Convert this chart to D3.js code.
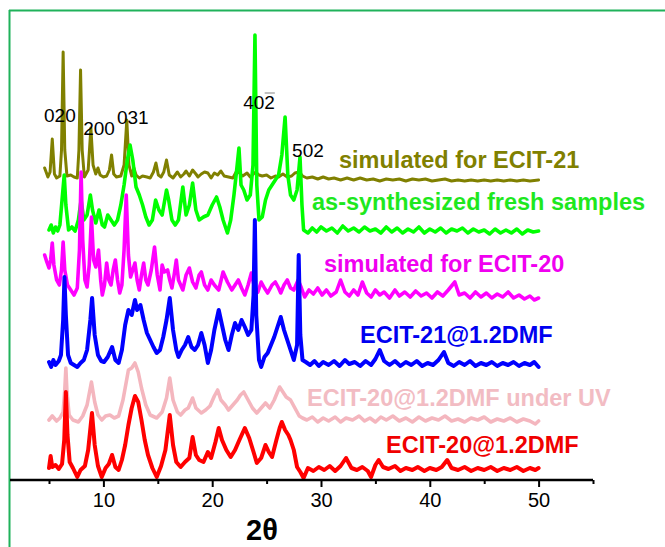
<!DOCTYPE html>
<html>
<head>
<meta charset="utf-8">
<script src="https://cdn.jsdelivr.net/npm/d3@7"></script>
<style>
  html, body { margin: 0; padding: 0; background: #fff; }
  svg { display: block; font-family: "Liberation Sans", Arial, sans-serif; }
</style>
</head>
<body>
<svg id="chart" width="665" height="547"></svg>
<script>
// 2θ ticks along the bottom axis
const majorTicks = [10, 20, 30, 40, 50];
const minorTicks = [5, 15, 25, 35, 45, 55];

// Pattern names, top to bottom
const seriesNames = [
  "simulated for ECIT-21",
  "as-synthesized fresh samples",
  "simulated for ECIT-20",
  "ECIT-21@1.2DMF",
  "ECIT-20@1.2DMF under UV",
  "ECIT-20@1.2DMF"
];

// Vertical stacking offsets (a.u.) for each pattern
const offsets = [290, 235, 170, 105, 50, 0];

// Diffraction patterns: [2θ, intensity (a.u.)]
const simECIT21 = [[4.6,22],[4.9,13],[5.1,18],[5.3,51],[5.5,16],[5.7,12],[6.0,14],[6.15,40],[6.3,138],[6.45,40],[6.65,14],[7.0,15],[7.3,13],[7.6,12],[7.75,40],[7.9,120],[8.05,40],[8.25,13],[8.6,20],[8.85,62],[9.05,25],[9.3,16],[9.5,22],[9.7,15],[10.0,13],[10.3,14],[10.55,20],[10.75,35],[10.95,16],[11.2,13],[11.6,14],[11.9,25],[12.15,70],[12.35,25],[12.6,14],[12.8,22],[13.0,15],[13.3,12],[13.6,14],[14.0,13],[14.3,12],[14.6,18],[14.83,27],[15.05,15],[15.3,13],[15.55,18],[15.8,30],[16.05,15],[16.4,12],[16.8,18],[17.1,13],[17.4,16],[17.6,19],[17.9,14],[18.2,20],[18.5,16],[18.7,13],[19.0,16],[19.3,18],[19.6,17],[19.9,12],[20.2,17],[20.5,15],[20.8,19],[21.1,14],[21.5,13],[21.9,12],[22.3,20],[22.5,17],[22.8,14],[23.2,17],[23.5,13],[23.8,16],[24.0,18],[24.3,15],[24.6,14],[25.0,15],[25.4,12],[25.8,14],[26.1,13],[26.5,16],[26.9,13],[27.3,14],[27.6,17],[28.0,18],[28.3,14],[28.7,12],[29.2,13],[29.7,11],[30.2,13],[30.7,11],[31.2,12],[31.8,10],[32.4,12],[33.0,10],[33.6,12],[34.2,10],[34.8,11],[35.4,9],[36.0,11],[36.6,10],[37.2,11],[37.8,9],[38.4,11],[39.0,10],[39.6,11],[40.2,9],[40.8,10],[41.4,11],[42.0,9],[42.6,10],[43.2,9],[43.8,10],[44.4,9],[45.0,10],[45.6,9],[46.2,10],[46.8,9],[47.4,10],[48.0,9],[48.6,10],[49.2,9],[50.0,10]];

const freshSamples = [[5.0,15],[5.2,20],[5.4,12],[5.6,18],[5.8,14],[6.0,20],[6.2,45],[6.4,70],[6.55,40],[6.8,15],[7.1,18],[7.4,14],[7.7,25],[7.95,45],[8.2,25],[8.5,30],[8.8,50],[9.0,35],[9.3,22],[9.6,35],[9.9,20],[10.1,18],[10.4,30],[10.7,25],[11.0,20],[11.3,25],[11.6,40],[11.9,60],[12.2,85],[12.45,100],[12.7,85],[13.0,58],[13.3,50],[13.6,40],[13.9,28],[14.2,20],[14.5,25],[14.8,45],[15.1,35],[15.4,30],[15.8,55],[16.0,45],[16.3,25],[16.6,20],[16.9,25],[17.3,58],[17.6,30],[17.9,40],[18.2,62],[18.5,35],[18.8,25],[19.2,28],[19.6,30],[20.0,40],[20.4,48],[20.7,38],[21.0,25],[21.4,12],[21.7,25],[22.0,50],[22.25,75],[22.46,97],[22.65,60],[22.9,55],[23.2,45],[23.5,50],[23.75,80],[23.93,210],[24.1,60],[24.3,25],[24.6,28],[24.9,45],[25.2,55],[25.5,60],[25.8,65],[26.1,70],[26.4,90],[26.7,128],[26.95,70],[27.2,50],[27.5,45],[27.8,55],[28.07,88],[28.25,40],[28.4,15],[28.8,12],[29.2,17],[29.6,13],[30.0,18],[30.5,14],[31.0,17],[31.5,12],[32.0,19],[32.5,14],[33.0,17],[33.5,13],[34.0,18],[34.5,14],[35.0,16],[35.5,12],[36.0,18],[36.5,13],[37.0,17],[37.5,12],[38.0,16],[38.5,13],[39.0,18],[39.5,12],[40.0,16],[40.5,13],[41.0,17],[41.5,12],[42.0,16],[42.5,14],[43.0,17],[43.5,12],[44.0,16],[44.5,13],[45.0,15],[45.5,11],[46.0,16],[46.5,12],[47.0,15],[47.5,12],[48.0,16],[48.5,11],[49.0,15],[49.5,13],[50.0,14]];

const simECIT20 = [[4.6,55],[4.8,48],[5.0,42],[5.15,50],[5.3,67],[5.45,45],[5.7,30],[5.95,25],[6.15,40],[6.3,68],[6.45,40],[6.7,25],[7.0,20],[7.3,15],[7.6,22],[7.8,60],[7.95,138],[8.1,70],[8.3,30],[8.5,23],[8.7,45],[8.9,93],[9.1,50],[9.3,43],[9.55,60],[9.75,30],[9.9,15],[10.1,25],[10.3,47],[10.5,30],[10.7,25],[10.9,40],[11.1,50],[11.3,30],[11.5,17],[11.7,25],[11.9,60],[12.1,115],[12.3,55],[12.5,33],[12.7,40],[12.9,47],[13.1,30],[13.3,20],[13.5,35],[13.7,47],[13.9,30],[14.1,25],[14.4,40],[14.7,63],[14.95,35],[15.2,20],[15.4,45],[15.6,38],[15.9,40],[16.1,30],[16.3,22],[16.5,35],[16.7,50],[16.9,30],[17.3,20],[17.6,35],[17.9,42],[18.2,28],[18.5,22],[18.8,35],[19.0,38],[19.3,25],[19.6,20],[19.9,30],[20.2,25],[20.6,20],[21.0,38],[21.4,28],[21.8,20],[22.1,25],[22.4,30],[22.7,22],[23.0,15],[23.3,25],[23.6,37],[23.9,22],[24.2,18],[24.5,28],[24.8,22],[25.1,17],[25.5,25],[25.8,28],[26.1,22],[26.3,17],[26.6,25],[26.9,30],[27.2,22],[27.5,20],[27.9,30],[28.2,22],[28.5,13],[28.9,20],[29.3,16],[29.7,22],[30.1,15],[30.5,20],[30.9,14],[31.4,18],[31.8,30],[32.2,18],[32.6,14],[33.0,20],[33.4,15],[33.8,28],[34.2,17],[34.6,13],[35.0,20],[35.4,15],[35.8,18],[36.3,12],[36.8,20],[37.2,14],[37.7,18],[38.2,13],[38.7,19],[39.2,14],[39.7,17],[40.2,12],[40.7,18],[41.2,14],[41.7,20],[42.3,28],[42.7,15],[43.2,17],[43.7,12],[44.2,18],[44.7,13],[45.2,17],[45.7,12],[46.2,16],[46.7,13],[47.2,18],[47.7,12],[48.2,15],[48.7,11],[49.2,14],[49.6,10],[50.0,12]];

const ecit21DMF = [[5.0,13],[5.2,8],[5.4,15],[5.6,10],[5.9,14],[6.1,20],[6.3,55],[6.42,98],[6.55,60],[6.75,20],[7.0,12],[7.3,10],[7.6,8],[7.9,12],[8.2,15],[8.5,25],[8.8,55],[8.96,77],[9.2,40],[9.5,20],[9.8,14],[10.06,13],[10.4,18],[10.8,28],[11.1,15],[11.4,12],[11.7,25],[12.0,50],[12.3,65],[12.6,60],[12.9,75],[13.1,65],[13.4,70],[13.7,55],[14.0,42],[14.3,35],[14.6,28],[14.9,22],[15.2,25],[15.5,38],[15.8,55],[16.1,77],[16.4,45],[16.7,25],[16.9,18],[17.2,25],[17.5,30],[17.8,38],[18.1,28],[18.4,25],[18.7,30],[19.0,42],[19.3,30],[19.6,12],[19.9,25],[20.2,45],[20.6,65],[20.9,50],[21.2,35],[21.5,25],[21.8,40],[22.1,52],[22.4,45],[22.7,55],[23.0,48],[23.3,40],[23.6,45],[23.8,80],[23.92,155],[24.05,60],[24.3,15],[24.5,8],[24.8,18],[25.1,22],[25.4,30],[25.7,38],[26.0,48],[26.3,58],[26.6,45],[26.9,35],[27.2,25],[27.5,15],[27.8,30],[27.95,120],[28.1,40],[28.3,15],[28.6,13],[29.0,10],[29.4,14],[29.8,9],[30.2,13],[30.7,10],[31.2,14],[31.7,9],[32.2,15],[32.6,11],[33.1,13],[33.6,9],[34.1,14],[34.6,10],[35.0,16],[35.4,25],[35.8,14],[36.3,10],[36.8,14],[37.3,9],[37.8,13],[38.3,10],[38.8,14],[39.3,9],[39.8,12],[40.3,10],[40.8,15],[41.3,23],[41.7,12],[42.2,9],[42.7,13],[43.2,10],[43.7,14],[44.2,9],[44.7,12],[45.2,10],[45.7,13],[46.2,9],[46.7,12],[47.2,10],[47.7,13],[48.2,9],[48.7,12],[49.2,10],[49.6,13],[50.0,8]];

const ecit20UV = [[5.0,10],[5.3,14],[5.7,9],[6.0,12],[6.3,18],[6.45,40],[6.55,62],[6.65,38],[6.85,15],[7.2,10],[7.7,8],[8.1,14],[8.5,25],[8.9,48],[9.2,28],[9.5,15],[9.85,10],[10.2,14],[10.6,15],[11.0,12],[11.4,14],[11.8,30],[12.3,60],[12.6,62],[12.9,67],[13.2,58],[13.5,42],[13.9,25],[14.3,15],[14.9,12],[15.4,18],[15.8,32],[16.1,52],[16.4,30],[16.8,18],[17.1,15],[17.5,20],[17.8,22],[18.2,32],[18.5,22],[19.0,17],[19.4,20],[19.8,24],[20.2,34],[20.5,40],[20.8,30],[21.2,25],[21.5,20],[21.9,25],[22.3,30],[22.6,35],[22.9,38],[23.3,30],[23.7,22],[24.1,17],[24.5,22],[24.9,27],[25.3,22],[25.7,30],[26.0,38],[26.2,43],[26.5,38],[26.8,33],[27.2,30],[27.6,22],[28.0,14],[28.3,12],[28.7,10],[29.2,13],[29.7,8],[30.2,12],[30.7,9],[31.3,13],[31.8,8],[32.3,12],[32.9,10],[33.5,14],[34.0,9],[34.5,12],[35.0,8],[35.5,13],[36.0,10],[36.6,14],[37.2,9],[37.8,12],[38.4,8],[39.0,13],[39.6,9],[40.2,12],[40.8,10],[41.4,14],[42.0,9],[42.6,11],[43.2,8],[43.8,12],[44.4,10],[45.0,13],[45.6,8],[46.2,11],[46.8,9],[47.4,12],[48.0,8],[48.6,11],[49.2,9],[49.7,6],[50.0,9]];

const ecit20DMF = [[5.0,12],[5.15,24],[5.3,13],[5.6,15],[5.9,11],[6.2,16],[6.4,40],[6.55,88],[6.7,45],[6.9,18],[7.2,12],[7.6,3],[7.9,10],[8.3,14],[8.6,30],[8.95,67],[9.2,35],[9.5,14],[9.85,3],[10.2,12],[10.5,16],[10.8,25],[11.1,13],[11.4,10],[11.7,20],[12.0,35],[12.3,55],[12.6,72],[12.9,84],[13.2,78],[13.5,60],[13.8,40],[14.1,25],[14.5,12],[14.9,3],[15.3,14],[15.7,30],[16.1,65],[16.4,35],[16.7,18],[17.1,13],[17.5,18],[17.9,22],[18.2,43],[18.5,25],[18.8,20],[19.2,18],[19.6,28],[19.9,22],[20.3,38],[20.6,52],[20.9,40],[21.3,30],[21.7,23],[22.1,30],[22.5,40],[23.0,52],[23.4,42],[23.8,28],[24.1,17],[24.5,22],[24.9,35],[25.2,28],[25.5,23],[25.9,40],[26.2,52],[26.4,58],[26.7,50],[27.0,45],[27.2,40],[27.5,30],[27.8,13],[28.1,8],[28.4,2],[28.8,12],[29.3,9],[29.8,13],[30.3,10],[30.8,14],[31.3,9],[31.8,14],[32.3,22],[32.8,12],[33.3,10],[33.8,13],[34.3,9],[34.6,3],[35.0,15],[35.3,20],[35.7,13],[36.2,11],[36.8,14],[37.3,9],[37.8,12],[38.4,10],[38.9,13],[39.5,9],[40.0,12],[40.6,10],[41.1,13],[41.6,20],[42.0,12],[42.6,10],[43.2,13],[43.8,9],[44.4,12],[45.0,10],[45.6,13],[46.2,9],[46.8,12],[47.4,10],[48.0,13],[48.6,9],[49.2,12],[49.7,10],[50.0,12]];

const patterns = [simECIT21, freshSamples, simECIT20, ecit21DMF, ecit20UV, ecit20DMF];

// Miller-index annotations: [label, 2θ, height (a.u., stacked scale)]
const hklLabels = [["020", 6.0, 358], ["200", 9.6, 345], ["031", 12.7, 356], ["402", 24.3, 371], ["502", 28.8, 323]];

// Styling
const lineColors = ["#808000", "#00ff00", "#ff00ff", "#0000ff", "#f4b6be", "#ff0000"];
const lineWidths = [3, 3.6, 3.6, 4, 3.6, 4];
const textColors = ["#808000", "#1ee81e", "#f000f0", "#0000f0", "#f2bcc3", "#f00000"];
const labelPos = [[339, 168], [312, 210], [324, 272], [360, 343], [307, 406], [386, 453]];

const svg = d3.select("#chart");
const W = 665, H = 547;

// scales: 2θ → px, intensity → px
const x = d3.scaleLinear().domain([5, 55]).range([49, 593]);
const y = d3.scaleLinear().domain([0, 450]).range([480, 30]);

// frame (left and top edges)
svg.append("line").attr("x1", 9.5).attr("x2", 9.5).attr("y1", 10).attr("y2", H)
  .attr("stroke", "#1fb25a").attr("stroke-width", 2);
svg.append("line").attr("x1", 9).attr("x2", W).attr("y1", 10.5).attr("y2", 10.5)
  .attr("stroke", "#1fb25a").attr("stroke-width", 2);

// patterns, drawn top first so lower ones overlay
const line = d3.line().x(d => x(d[0])).y(d => y(d[1]));
patterns.forEach((p, i) => {
  svg.append("path")
    .datum(p.map(d => [d[0], d[1] + offsets[i]]))
    .attr("d", line)
    .attr("fill", "none")
    .attr("stroke", lineColors[i])
    .attr("stroke-width", lineWidths[i])
    .attr("stroke-linejoin", "round")
    .attr("stroke-linecap", "round");
});

// pattern names
seriesNames.forEach((name, i) => {
  svg.append("text")
    .attr("x", labelPos[i][0]).attr("y", labelPos[i][1])
    .attr("font-size", 23.5).attr("font-weight", "bold")
    .attr("fill", textColors[i])
    .text(name);
});

// Miller indices
hklLabels.forEach(([t, tt, h]) => {
  const txt = svg.append("text")
    .attr("x", x(tt)).attr("y", y(h))
    .attr("text-anchor", "middle")
    .attr("font-size", 19)
    .attr("fill", "#000")
    .text(t);
  if (t === "402") {
    // overbar on the last index
    const bb = txt.node().getBBox();
    svg.append("line")
      .attr("x1", bb.x + bb.width * 0.68).attr("x2", bb.x + bb.width)
      .attr("y1", bb.y + 1).attr("y2", bb.y + 1)
      .attr("stroke", "#999").attr("stroke-width", 1.2);
  }
});

// bottom axis
const axisG = svg.append("g").attr("transform", "translate(0,480)");
axisG.append("line").attr("x1", 10).attr("x2", x(55)).attr("y1", 0).attr("y2", 0)
  .attr("stroke", "#000").attr("stroke-width", 2.6);
const majorAxis = d3.axisBottom(x).tickValues(majorTicks).tickSize(7).tickPadding(6)
  .tickFormat(d3.format("d"));
const minorAxis = d3.axisBottom(x).tickValues(minorTicks).tickSize(4).tickFormat("");
const gMaj = axisG.append("g").call(majorAxis);
const gMin = axisG.append("g").call(minorAxis);
[gMaj, gMin].forEach(g => {
  g.select(".domain").remove();
  g.selectAll(".tick line").attr("stroke", "#000").attr("stroke-width", 2);
});
gMaj.selectAll(".tick text")
  .attr("font-size", 20).attr("font-family", "Liberation Sans, Arial, sans-serif")
  .attr("fill", "#000").attr("dy", "0.7em");

// axis title
svg.append("text").attr("x", 262).attr("y", 540)
  .attr("text-anchor", "middle").attr("font-size", 29).attr("font-weight", "bold")
  .text("2θ");
</script>
</body>
</html>
